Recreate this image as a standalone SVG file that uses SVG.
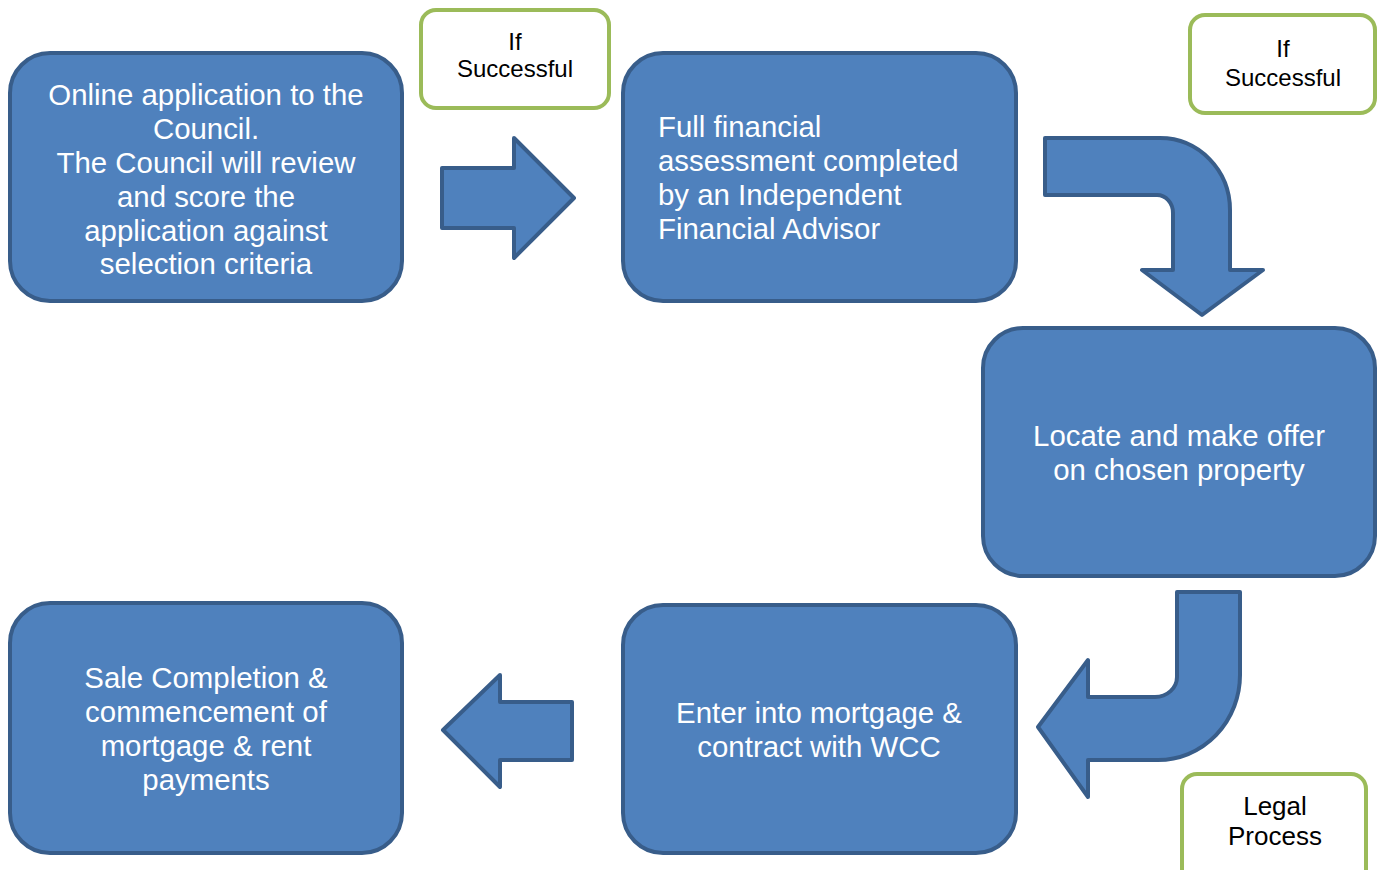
<svg xmlns="http://www.w3.org/2000/svg" width="1383" height="870" viewBox="0 0 1383 870">
<style>
.box{fill:#4f81bd;stroke:#385d8a;stroke-width:4}
.arrow{fill:#4f81bd;stroke:#385d8a;stroke-width:4;stroke-linejoin:round}
.lbl{fill:#ffffff;stroke:#9bbb59;stroke-width:4}
.t{font-family:"Liberation Sans",Arial,sans-serif;font-size:29.4px;fill:#ffffff}
.s{font-family:"Liberation Sans",Arial,sans-serif;font-size:24px;fill:#000000;text-anchor:middle}
.c{text-anchor:middle}
</style>
<rect width="1383" height="870" fill="#ffffff"/>
<g id="connectors">
<path class="arrow" d="M442,168 L514,168 L514,138 L574,198 L514,258 L514,228 L442,228 Z"/>
<path class="arrow" d="M1045,138 L1160,138 A70,72 0 0 1 1230,210 L1230,270 L1263,270 L1202,315 L1142,270 L1173,270 L1173,213 A16,18 0 0 0 1157,195 L1045,195 Z"/>
<path class="arrow" d="M1177,592 L1240,592 L1240,675 A82,85 0 0 1 1158,760 L1088,760 L1088,797 L1038,727 L1088,660 L1088,697 L1155,697 A22,20 0 0 0 1177,677 Z"/>
<path class="arrow" d="M572,702 L500,702 L500,675 L443,730 L500,787 L500,760 L572,760 Z"/>
</g>
<g id="node1">
<rect class="box" x="10" y="53" width="392" height="248" rx="40"/>
<text class="t c" x="206"><tspan x="206" y="105">Online application to the</tspan><tspan x="206" y="139">Council.</tspan><tspan x="206" y="173">The Council will review</tspan><tspan x="206" y="207">and score the</tspan><tspan x="206" y="241">application against</tspan><tspan x="206" y="274">selection criteria</tspan></text>
</g>
<g id="label1">
<rect class="lbl" x="421" y="10" width="188" height="98" rx="15"/>
<text class="s"><tspan x="515" y="50">If</tspan><tspan x="515" y="77">Successful</tspan></text>
</g>
<g id="node2">
<rect class="box" x="623" y="53" width="393" height="248" rx="40"/>
<text class="t"><tspan x="658" y="137">Full financial</tspan><tspan x="658" y="171">assessment completed</tspan><tspan x="658" y="205">by an Independent</tspan><tspan x="658" y="239">Financial Advisor</tspan></text>
</g>
<g id="label2">
<rect class="lbl" x="1190" y="15" width="185" height="98" rx="15"/>
<text class="s"><tspan x="1283" y="57">If</tspan><tspan x="1283" y="86">Successful</tspan></text>
</g>
<g id="node3">
<rect class="box" x="983" y="328" width="392" height="248" rx="40"/>
<text class="t c"><tspan x="1179" y="446">Locate and make offer</tspan><tspan x="1179" y="480">on chosen property</tspan></text>
</g>
<g id="node4">
<rect class="box" x="623" y="605" width="393" height="248" rx="40"/>
<text class="t c"><tspan x="819" y="723">Enter into mortgage &amp;</tspan><tspan x="819" y="757">contract with WCC</tspan></text>
</g>
<g id="node5">
<rect class="box" x="10" y="603" width="392" height="250" rx="40"/>
<text class="t c"><tspan x="206" y="688">Sale Completion &amp;</tspan><tspan x="206" y="722">commencement of</tspan><tspan x="206" y="756">mortgage &amp; rent</tspan><tspan x="206" y="790">payments</tspan></text>
</g>
<g id="label3">
<rect class="lbl" x="1182" y="774" width="184" height="110" rx="15"/>
<text class="s" style="font-size:26px"><tspan x="1275" y="815">Legal</tspan><tspan x="1275" y="845">Process</tspan></text>
</g>
</svg>
